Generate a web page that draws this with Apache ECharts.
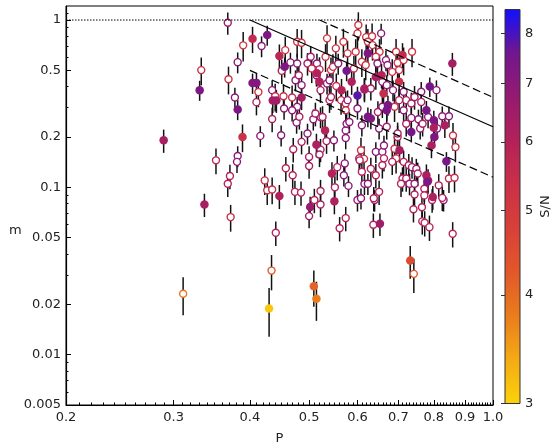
<!DOCTYPE html>
<html><head><meta charset="utf-8">
<script src="https://cdn.jsdelivr.net/npm/echarts@6/dist/echarts.min.js"></script>
<style>html,body{margin:0;padding:0;background:#fff}#c{width:556px;height:445px}</style>
</head><body><div id="c"></div>
<script>
// ---------- data ----------
const filledP  = [0.289,0.331,0.337,0.382,0.389,0.404,0.427,0.404,0.410,0.436,0.442,0.447,0.447,0.456,0.486,0.502,0.514,0.515,0.520,0.531,0.545,0.550,0.565,0.576,0.587,0.600,0.624,0.624,0.631,0.643,0.657,0.662,0.616,0.673,0.670,0.702,0.711,0.653,0.703,0.732,0.735,0.778,0.788,0.800,0.800,0.834,0.802,0.793,0.839,0.858,0.778,0.783,0.781,0.797,0.430,0.509,0.514];
const filledM  = [0.191,0.381,0.079,0.292,0.200,0.773,0.813,0.420,0.420,0.330,0.330,0.609,0.0887,0.525,0.344,0.0762,0.180,0.480,0.427,0.219,0.121,0.0825,0.381,0.497,0.427,0.354,0.632,0.264,0.258,0.457,0.468,0.364,0.384,0.310,0.289,0.427,0.617,0.0605,0.1665,0.0365,0.214,0.289,0.400,0.252,0.227,0.235,0.200,0.178,0.143,0.550,0.118,0.110,0.108,0.0875,0.0189,0.0256,0.0216];
const filledSN = [6.3,7.3,6.3,7.3,5.3,5.6,7.3,7.2,7.2,6.4,6.4,5.8,6.1,7.3,6.3,6.6,6.2,6.0,6.0,6.0,6.0,6.1,6.0,7.5,6.1,7.8,7.3,7.4,7.2,6.2,6.0,5.5,6.2,7.3,7.4,5.3,5.6,6.5,6.3,4.5,7.5,7.4,7.5,7.3,6.2,6.2,7.3,6.2,7.4,6.4,6.2,6.0,7.3,6.1,3.1,4.1,3.8];

const openP  = [0.368,0.390,0.418,0.382,0.333,0.369,0.413,0.435,0.378,0.410,0.440,0.435,0.416,0.450,0.352,0.382,0.381,0.371,0.368,0.423,0.427,0.435,0.372,0.441,0.434,0.311,0.742,0.859,
  0.500,0.522,0.561,0.574,0.600,0.637,0.640,0.741,0.765,0.766,0.773,0.787,0.795,0.830,
  0.471,0.486,0.500,0.500,0.458,0.470,0.474,0.485,0.522,0.510,0.477,0.497,0.522,0.520,0.534,0.549,0.556,0.551,0.572,0.570,0.580,0.604,0.508,0.522,0.574,0.574,0.576,0.582,
  0.457,0.478,0.486,0.451,0.466,0.478,0.454,0.469,0.475,0.481,0.486,0.478,0.482,0.503,0.497,0.515,0.505,0.520,0.514,0.522,0.535,0.540,0.543,0.547,0.532,0.535,0.569,0.553,0.558,0.554,0.592,0.578,0.596,0.600,0.602,0.564,0.574,0.512,0.526,0.455,0.469,0.540,0.543,
  0.656,0.620,0.634,0.624,0.635,0.652,0.643,0.610,0.619,0.647,0.668,0.672,0.694,0.737,0.698,0.714,0.684,0.702,0.659,0.670,0.686,0.714,0.763,0.808,0.721,0.735,0.744,0.763,0.826,0.847,0.616,0.631,
  0.610,0.651,0.755,0.760,0.810,0.860,0.868,0.608,0.615,0.605,0.610,0.631,0.643,0.659,0.663,0.663,0.659,0.616,0.624,0.643,0.608,0.638,0.651,0.690,0.694,0.698,0.684,0.714,0.728,0.737,0.749,0.753,0.711,0.707,0.721,0.730,0.744,0.744,0.772,0.772,0.815,0.847,0.865,0.826,0.735,0.783,0.721,0.767,
  0.578,0.600,0.574,0.648,0.659,0.690,0.702,0.714,0.670,0.698];
const openM  = [0.963,0.706,0.699,0.560,0.502,0.443,0.371,0.381,0.344,0.323,0.350,0.256,0.203,0.205,0.145,0.154,0.142,0.117,0.105,0.110,0.096,0.097,0.0664,0.0535,0.0318,0.0231,0.0304,0.0528,
  0.0673,0.079,0.057,0.0655,0.084,0.0598,0.084,0.074,0.076,0.0626,0.0614,0.0578,0.084,0.084,
  0.169,0.187,0.152,0.134,0.130,0.118,0.094,0.093,0.095,0.084,0.244,0.210,0.168,0.157,0.189,0.191,0.132,0.100,0.139,0.118,0.102,0.149,0.255,0.263,0.219,0.197,0.240,0.246,
  0.661,0.741,0.732,0.497,0.558,0.550,0.350,0.344,0.437,0.468,0.408,0.303,0.264,0.603,0.550,0.550,0.513,0.507,0.468,0.381,0.418,0.437,0.502,0.525,0.603,0.777,0.741,0.677,0.550,0.403,0.513,0.632,0.646,0.832,0.933,0.332,0.317,0.276,0.263,0.296,0.289,0.332,0.347,
  0.832,0.790,0.800,0.741,0.708,0.646,0.603,0.563,0.538,0.550,0.576,0.538,0.646,0.646,0.555,0.576,0.490,0.502,0.427,0.408,0.381,0.373,0.373,0.381,0.332,0.317,0.347,0.324,0.266,0.266,0.390,0.390,
  0.235,0.225,0.255,0.225,0.225,0.204,0.174,0.1665,0.148,0.145,0.124,0.129,0.163,0.163,0.178,0.149,0.1354,0.105,0.105,0.118,0.086,0.086,0.094,0.170,0.149,0.200,0.142,0.142,0.1354,0.132,0.129,0.121,0.113,0.105,0.113,0.105,0.105,0.0907,0.098,0.0895,0.1028,0.113,0.114,0.0865,0.260,0.263,0.240,0.240,
  0.332,0.296,0.289,0.282,0.303,0.303,0.332,0.289,0.230,0.210];
const openSN = [6.6,5.0,7.0,7.0,5.3,5.3,5.3,7.0,7.0,6.0,5.3,6.0,7.0,7.0,5.7,7.0,7.0,6.0,6.0,5.5,5.5,5.5,5.5,6.0,4.2,3.9,4.3,5.8,
  6.5,6.2,6.0,6.0,6.8,6.0,6.8,6.0,6.0,6.0,5.8,5.8,6.2,6.8,
  6.0,6.3,6.3,6.3,6.0,6.0,6.0,6.0,6.0,6.0,7.0,7.0,6.3,6.3,6.2,7.0,6.0,6.0,7.0,7.0,7.0,6.2,7.0,7.0,7.0,7.0,7.0,7.0,
  5.0,5.2,5.2,6.0,7.0,7.0,5.5,5.5,7.0,6.2,7.0,7.0,6.2,6.5,6.5,7.0,5.5,5.5,7.0,6.2,7.0,7.0,5.3,5.3,5.3,5.1,5.1,5.3,7.0,5.3,5.3,5.3,5.3,5.2,5.2,5.5,5.5,6.2,6.2,7.0,7.0,6.2,6.2,
  7.0,5.2,5.2,5.2,5.2,5.3,5.3,5.3,5.3,7.0,7.0,7.0,5.2,5.2,5.3,5.3,5.3,5.3,7.0,7.0,7.0,7.0,7.0,7.0,6.2,6.2,6.2,6.2,7.0,7.0,6.5,6.5,
  7.0,7.0,7.0,7.0,7.0,5.3,5.3,5.3,5.3,6.0,6.0,6.0,7.0,7.0,7.0,6.0,6.0,7.0,7.0,6.0,7.0,6.0,6.0,5.3,5.3,6.0,6.0,6.0,6.0,6.8,6.8,6.2,6.0,6.0,6.0,6.8,6.8,6.0,6.0,6.0,6.0,5.5,5.5,6.0,7.0,7.0,6.2,6.2,
  7.0,7.0,5.5,6.2,7.0,5.3,6.2,7.0,6.2,6.2];

// reference lines (end points, P and m)
const solidLine = [[0.40,1.0],[1.0,0.23]];
const lowerDash = [[0.40,0.50],[1.0,0.115]];
const upperDash = [[0.52,1.0],[1.0,0.345]];
const unityLine = [[0.2,1.0],[1.0,1.0]];

// axes
const xRange = [0.2, 1.0];
const yRange = [0.005, 1.213];
const xTickValues = [0.2,0.3,0.4,0.5,0.6,0.7,0.8,0.9,1.0];
const xTickLabels = ['0.2','0.3','0.4','0.5','0.6','0.7','0.8','0.9','1.0'];
const yTickValues = [0.005,0.01,0.02,0.05,0.1,0.2,0.5,1];
const yTickLabels = ['0.005','0.01','0.02','0.05','0.1','0.2','0.5','1'];
const yMinorValues = [0.006,0.007,0.008,0.009,0.03,0.04,0.06,0.07,0.08,0.09,0.3,0.4,0.6,0.7,0.8,0.9,1.1];
const snRange = [3, 8.52];
const cbTickValues = [3,4,5,6,7,8];
const cbTickLabels = ['3','4','5','6','7','8'];
const colorStops = ['#fcd20a','#f4ab15','#ea7d1c','#e2582a','#d84038','#ca3048','#b4215a','#961a70','#72168e','#1010ff'];

// ---------- helpers ----------
const L = Math.log10;
const xMinorValues = [];
for (let i = 21; i < 100; i++) if (i % 10 !== 0) xMinorValues.push(i / 100);

function hexToRgb(h){return [parseInt(h.slice(1,3),16),parseInt(h.slice(3,5),16),parseInt(h.slice(5,7),16)];}
function colorFor(sn){
  let t = (L(sn) - L(snRange[0])) / (L(snRange[1]) - L(snRange[0]));
  t = Math.max(0, Math.min(1, t));
  const f = t * (colorStops.length - 1);
  const i = Math.min(colorStops.length - 2, Math.floor(f));
  const u = f - i;
  const a = hexToRgb(colorStops[i]), b = hexToRgb(colorStops[i+1]);
  const c = a.map((v,k)=>Math.round(v + (b[k]-v)*u));
  return 'rgb(' + c.join(',') + ')';
}
function labelFrom(values, labels){
  return function(v){
    for (let i=0;i<values.length;i++) if (Math.abs(L(values[i]) - v) < 1e-6) return labels[i];
    return '';
  };
}

const errData = [];
function addErr(P, M, S){
  for (let i=0;i<P.length;i++){
    errData.push([L(P[i]), L(M[i]*(1-1/S[i])), L(M[i]*(1+1/S[i]))]);
  }
}
addErr(openP, openM, openSN);
addErr(filledP, filledM, filledSN);

const openData = openP.map((p,i)=>({value:[L(p), L(openM[i]), openSN[i]], itemStyle:{color:'#fff', borderColor: colorFor(openSN[i]), borderWidth:1.4, opacity:1}}));
const filledData = filledP.map((p,i)=>({value:[L(p), L(filledM[i]), filledSN[i]], itemStyle:{color: colorFor(filledSN[i]), opacity:1}}));
const toLog = arr => arr.map(d => [L(d[0]), L(d[1])]);

const FONT = 'DejaVu Sans';
const TXT = {fontFamily: FONT, fontSize: 13, color: '#222'};

const chart = echarts.init(document.getElementById('c'), null, {renderer:'canvas'});
chart.setOption({
  animation: false,
  backgroundColor: '#fff',
  grid: [
    {left: 66, top: 6, width: 427, height: 399, show: true, borderColor: '#000', borderWidth: 1, backgroundColor: 'transparent', outerBoundsMode: 'none', containLabel: false},
    {left: 505, top: 9.5, width: 15, height: 394, show: false, outerBoundsMode: 'none', containLabel: false}
  ],
  xAxis: [
    {type:'value', gridIndex:0, min:L(xRange[0]), max:L(xRange[1]), position:'bottom',
     name:'P', nameLocation:'middle', nameGap:27, nameTextStyle:{fontFamily:FONT, fontSize:13, color:'#222'},
     axisLine:{show:true, onZero:false, lineStyle:{color:'#000', width:1.2}},
     axisTick:{show:true, inside:true, length:5, customValues: xTickValues.map(L), lineStyle:{color:'#000', width:1}},
     axisLabel:Object.assign({show:true, margin:6, showMinLabel:true, showMaxLabel:true, customValues: xTickValues.map(L), formatter: labelFrom(xTickValues, xTickLabels)}, TXT),
     splitLine:{show:false}},
    {type:'value', gridIndex:0, min:L(xRange[0]), max:L(xRange[1]), position:'bottom', offset:0,
     axisLine:{show:false, onZero:false},
     axisTick:{show:true, inside:true, length:2.5, customValues: xMinorValues.map(L), lineStyle:{color:'#000', width:1}},
     axisLabel:{show:false}, splitLine:{show:false}},
    {type:'value', gridIndex:1, min:0, max:1, show:false}
  ],
  yAxis: [
    {type:'value', gridIndex:0, min:L(yRange[0]), max:L(yRange[1]), position:'left',
     axisLine:{show:true, onZero:false, lineStyle:{color:'#000', width:1.2}},
     axisTick:{show:true, inside:true, length:5, customValues: yTickValues.map(L), lineStyle:{color:'#000', width:1}},
     axisLabel:Object.assign({show:true, margin:5, showMinLabel:true, showMaxLabel:true, customValues: yTickValues.map(L), formatter: labelFrom(yTickValues, yTickLabels)}, TXT),
     splitLine:{show:false}},
    {type:'value', gridIndex:0, min:L(yRange[0]), max:L(yRange[1]), position:'left', offset:0,
     axisLine:{show:false, onZero:false},
     axisTick:{show:true, inside:true, length:2.5, customValues: yMinorValues.map(L), lineStyle:{color:'#000', width:1}},
     axisLabel:{show:false}, splitLine:{show:false}},
    {type:'value', gridIndex:1, min:L(snRange[0]), max:L(snRange[1]), position:'right', z:10,
     name:'S/N', nameLocation:'middle', nameGap:19, nameRotate:90, nameTextStyle:{fontFamily:FONT, fontSize:13, color:'#222'},
     axisLine:{show:false},
     axisTick:{show:true, inside:true, length:4, customValues: cbTickValues.map(L), lineStyle:{color:'#333', width:1}},
     axisLabel:Object.assign({show:true, margin:5, showMinLabel:true, showMaxLabel:true, customValues: cbTickValues.map(L), formatter: labelFrom(cbTickValues, cbTickLabels)}, TXT),
     splitLine:{show:false}}
  ],
  graphic: [
    {type:'text', left: 9, top: 224, style:{text:'m', font:'13px "DejaVu Sans"', fill:'#222'}}
  ],
  series: [
    {type:'custom', name:'err', xAxisIndex:0, yAxisIndex:0, clip:true, z:1,
     data: errData, encode:{x:0, y:[1,2]},
     renderItem: function(params, api){
       const a = api.coord([api.value(0), api.value(1)]);
       const b = api.coord([api.value(0), api.value(2)]);
       return {type:'line', shape:{x1:a[0], y1:a[1], x2:b[0], y2:b[1]}, style:{stroke:'#111', lineWidth:1.5}};
     }},
    {type:'scatter', name:'open', xAxisIndex:0, yAxisIndex:0, z:3, symbol:'circle', symbolSize:7,
     itemStyle:{opacity:1}, data: openData},
    {type:'scatter', name:'filled', xAxisIndex:0, yAxisIndex:0, z:4, symbol:'circle', symbolSize:8.5,
     itemStyle:{borderWidth:0, opacity:1}, data: filledData},
    {type:'line', xAxisIndex:0, yAxisIndex:0, z:5, symbol:'none', data: toLog(unityLine), lineStyle:{color:'#000', width:1, type:[1.5,1.5]}},
    {type:'line', xAxisIndex:0, yAxisIndex:0, z:5, symbol:'none', data: toLog(solidLine), lineStyle:{color:'#000', width:1.2, type:'solid'}},
    {type:'line', xAxisIndex:0, yAxisIndex:0, z:5, symbol:'none', data: toLog(lowerDash), lineStyle:{color:'#000', width:1.2, type:[8,4]}},
    {type:'line', xAxisIndex:0, yAxisIndex:0, z:5, symbol:'none', data: toLog(upperDash), lineStyle:{color:'#000', width:1.2, type:[8,4]}},
    {type:'custom', name:'colorbar', xAxisIndex:2, yAxisIndex:2, z:2,
     data: [[0, L(snRange[0]), L(snRange[1])]],
     renderItem: function(params, api){
       const bl = api.coord([0, api.value(1)]);
       const tr = api.coord([1, api.value(2)]);
       const stops = colorStops.map((c,i)=>({offset: 1 - i/(colorStops.length-1), color: c})).reverse();
       return {type:'rect', shape:{x:bl[0], y:tr[1], width:tr[0]-bl[0], height:bl[1]-tr[1]},
         style:{fill:{type:'linear', x:0, y:0, x2:0, y2:1, colorStops: stops}, stroke:'#333', lineWidth:1}};
     }}
  ]
});
</script></body></html>
